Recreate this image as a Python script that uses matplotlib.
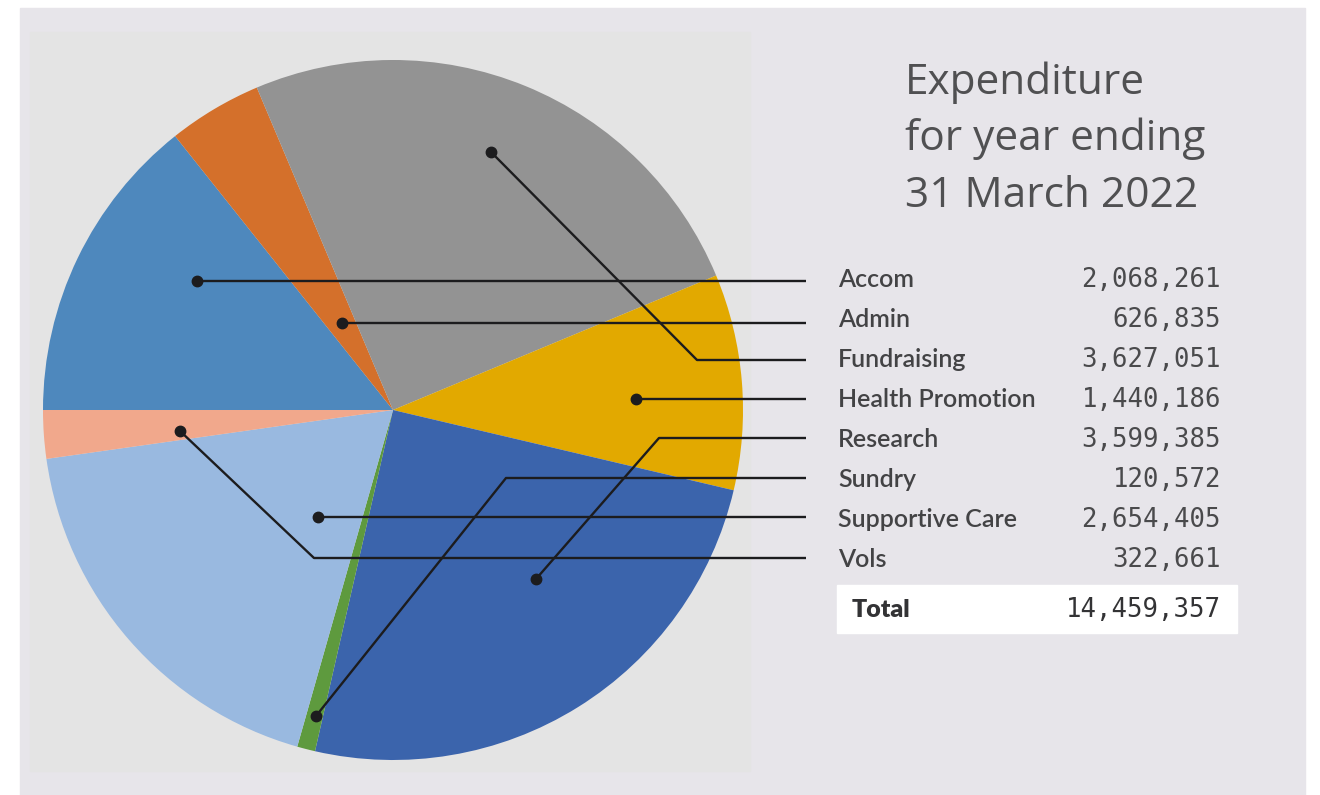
import matplotlib
matplotlib.use("Agg")
import matplotlib.pyplot as plt
from matplotlib.patches import Rectangle

# expenditure data
categories = ["Accom", "Admin", "Fundraising", "Health Promotion",
              "Research", "Sundry", "Supportive Care", "Vols"]
values = [2068261, 626835, 3627051, 1440186, 3599385, 120572, 2654405, 322661]
total = 14459357
colors = ["#4e88bd", "#d4702b", "#939393", "#e2a900",
          "#3b64ac", "#5e9a3e", "#99b9e0", "#f1a88c"]

# leader lines: dot inside slice, optional elbow, then horizontal to the label
dots = [(197, 281), (342, 323), (491, 152), (636, 399),
        (536, 579), (316, 716), (318, 517), (180, 431)]
elbows = [None, None, (697, 360), None, (659, 438), (506, 478), None, (314, 558)]
line_y = [281, 323, 360, 399, 438, 478, 517, 558]

W, H = 1320, 795
fig = plt.figure(figsize=(W / 100, H / 100), dpi=100, facecolor="white")
ax = fig.add_axes([0, 0, 1, 1])

# pie in pixel coords (y axis runs downward, so counterclock=True reads clockwise)
ax.pie(values, colors=colors, startangle=180, counterclock=True,
       center=(393, 410), radius=350, wedgeprops=dict(linewidth=0),
       frame=True)
ax.set_xlim(0, W)
ax.set_ylim(H, 0)
ax.set_aspect("equal")
ax.axis("off")

# backgrounds
ax.add_patch(Rectangle((20, 8), 1285, 790, color="#e7e5ea", zorder=-2))
ax.add_patch(Rectangle((30, 32), 720, 739, color="#e4e4e4", zorder=-1))

# leader lines
for (dx, dy), el, ly in zip(dots, elbows, line_y):
    xs, ys = [dx], [dy]
    if el is not None:
        xs.append(el[0]); ys.append(el[1])
    xs.append(806); ys.append(ly)
    ax.plot(xs, ys, color="#1c1c1e", lw=1.7, zorder=3, solid_capstyle="butt")
    ax.plot(dx, dy, "o", color="#1c1c1e", ms=7.5, zorder=4)

# title
title_lines = ["Expenditure", "for year ending", "31 March 2022"]
for i, t in enumerate(title_lines):
    ax.text(905, 94 + 56.5 * i, t, fontsize=30.5, family="Open Sans",
            color="#505052", va="baseline", ha="left")

# table of values
for i, (c, v) in enumerate(zip(categories, values)):
    y = 287 + 40 * i
    ax.text(838, y, c, fontsize=18, family="Lato", weight="semibold",
            color="#434345", va="baseline", ha="left")
    ax.text(1221, y, f"{v:,}", fontsize=18.5, family="DejaVu Sans Mono",
            color="#4a4a4c", va="baseline", ha="right")

# total row
ax.add_patch(Rectangle((837, 585), 400, 48, color="white", zorder=1))
ax.text(852, 617, "Total", fontsize=18, family="Lato", weight="heavy",
        color="#333335", va="baseline", ha="left", zorder=2)
ax.text(1221, 617, f"{total:,}", fontsize=18.5, family="DejaVu Sans Mono",
        color="#333335", va="baseline", ha="right", zorder=2)

fig.savefig("out.png", dpi=100, facecolor="white")
